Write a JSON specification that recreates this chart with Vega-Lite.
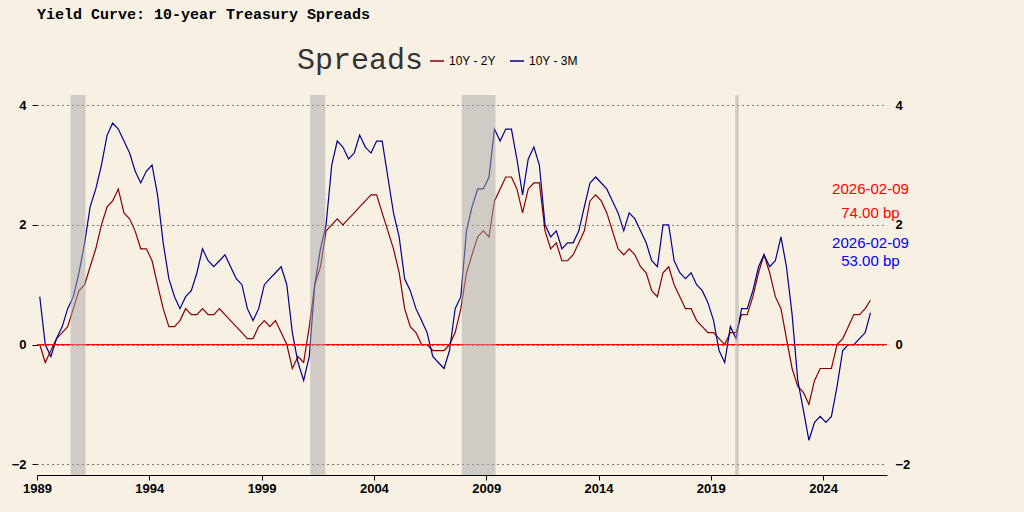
{
  "$schema": "https://vega.github.io/schema/vega-lite/v6.json",
  "autosize": "none",
  "width": 850,
  "height": 380,
  "padding": {"left": 37, "top": 95, "right": 137, "bottom": 37},
  "background": "#f8f0e3",
  "config": {"view": {"stroke": null}, "font": "Liberation Sans"},
  "title": {
    "text": "Yield Curve: 10-year Treasury Spreads",
    "anchor": "start", "frame": "group", "font": "Liberation Mono", "fontSize": 15, "fontWeight": "bold",
    "offset": 31, "color": "#000"
  },
  "datasets": {
    "spreads": [
      {"d":"1989-02-15","a":0.0,"b":0.8},{"d":"1989-05-15","a":-0.3,"b":0.0},{"d":"1989-08-15","a":-0.1,"b":-0.2},{"d":"1989-11-15","a":0.1,"b":0.1},
      {"d":"1990-02-15","a":0.2,"b":0.3},{"d":"1990-05-15","a":0.3,"b":0.6},{"d":"1990-08-15","a":0.6,"b":0.8},{"d":"1990-11-15","a":0.9,"b":1.2},
      {"d":"1991-02-15","a":1.0,"b":1.7},{"d":"1991-05-15","a":1.3,"b":2.3},{"d":"1991-08-15","a":1.6,"b":2.6},{"d":"1991-11-15","a":2.0,"b":3.0},
      {"d":"1992-02-15","a":2.3,"b":3.5},{"d":"1992-05-15","a":2.4,"b":3.7},{"d":"1992-08-15","a":2.6,"b":3.6},{"d":"1992-11-15","a":2.2,"b":3.4},
      {"d":"1993-02-15","a":2.1,"b":3.2},{"d":"1993-05-15","a":1.9,"b":2.9},{"d":"1993-08-15","a":1.6,"b":2.7},{"d":"1993-11-15","a":1.6,"b":2.9},
      {"d":"1994-02-15","a":1.4,"b":3.0},{"d":"1994-05-15","a":1.0,"b":2.5},{"d":"1994-08-15","a":0.6,"b":1.7},{"d":"1994-11-15","a":0.3,"b":1.1},
      {"d":"1995-02-15","a":0.3,"b":0.8},{"d":"1995-05-15","a":0.4,"b":0.6},{"d":"1995-08-15","a":0.6,"b":0.8},{"d":"1995-11-15","a":0.5,"b":0.9},
      {"d":"1996-02-15","a":0.5,"b":1.2},{"d":"1996-05-15","a":0.6,"b":1.6},{"d":"1996-08-15","a":0.5,"b":1.4},{"d":"1996-11-15","a":0.5,"b":1.3},
      {"d":"1997-02-15","a":0.6,"b":1.4},{"d":"1997-05-15","a":0.5,"b":1.5},{"d":"1997-08-15","a":0.4,"b":1.3},{"d":"1997-11-15","a":0.3,"b":1.1},
      {"d":"1998-02-15","a":0.2,"b":1.0},{"d":"1998-05-15","a":0.1,"b":0.6},{"d":"1998-08-15","a":0.1,"b":0.4},{"d":"1998-11-15","a":0.3,"b":0.6},
      {"d":"1999-02-15","a":0.4,"b":1.0},{"d":"1999-05-15","a":0.3,"b":1.1},{"d":"1999-08-15","a":0.4,"b":1.2},{"d":"1999-11-15","a":0.2,"b":1.3},
      {"d":"2000-02-15","a":0.0,"b":1.0},{"d":"2000-05-15","a":-0.4,"b":0.2},{"d":"2000-08-15","a":-0.2,"b":-0.3},{"d":"2000-11-15","a":-0.3,"b":-0.6},
      {"d":"2001-02-15","a":0.3,"b":-0.2},{"d":"2001-05-15","a":1.0,"b":1.0},{"d":"2001-08-15","a":1.3,"b":1.6},{"d":"2001-11-15","a":1.9,"b":2.0},
      {"d":"2002-02-15","a":2.0,"b":3.0},{"d":"2002-05-15","a":2.1,"b":3.4},{"d":"2002-08-15","a":2.0,"b":3.3},{"d":"2002-11-15","a":2.1,"b":3.1},
      {"d":"2003-02-15","a":2.2,"b":3.2},{"d":"2003-05-15","a":2.3,"b":3.5},{"d":"2003-08-15","a":2.4,"b":3.3},{"d":"2003-11-15","a":2.5,"b":3.2},
      {"d":"2004-02-15","a":2.5,"b":3.4},{"d":"2004-05-15","a":2.2,"b":3.4},{"d":"2004-08-15","a":1.9,"b":2.8},{"d":"2004-11-15","a":1.6,"b":2.2},
      {"d":"2005-02-15","a":1.2,"b":1.8},{"d":"2005-05-15","a":0.6,"b":1.1},{"d":"2005-08-15","a":0.3,"b":0.9},{"d":"2005-11-15","a":0.2,"b":0.6},
      {"d":"2006-02-15","a":0.0,"b":0.4},{"d":"2006-05-15","a":0.0,"b":0.2},{"d":"2006-08-15","a":-0.1,"b":-0.2},{"d":"2006-11-15","a":-0.1,"b":-0.3},
      {"d":"2007-02-15","a":-0.1,"b":-0.4},{"d":"2007-05-15","a":0.0,"b":-0.1},{"d":"2007-08-15","a":0.2,"b":0.6},{"d":"2007-11-15","a":0.6,"b":0.8},
      {"d":"2008-02-15","a":1.2,"b":1.9},{"d":"2008-05-15","a":1.5,"b":2.3},{"d":"2008-08-15","a":1.8,"b":2.6},{"d":"2008-11-15","a":1.9,"b":2.6},
      {"d":"2009-02-15","a":1.8,"b":2.8},{"d":"2009-05-15","a":2.4,"b":3.6},{"d":"2009-08-15","a":2.6,"b":3.4},{"d":"2009-11-15","a":2.8,"b":3.6},
      {"d":"2010-02-15","a":2.8,"b":3.6},{"d":"2010-05-15","a":2.6,"b":3.1},{"d":"2010-08-15","a":2.2,"b":2.5},{"d":"2010-11-15","a":2.6,"b":3.1},
      {"d":"2011-02-15","a":2.7,"b":3.3},{"d":"2011-05-15","a":2.7,"b":3.0},{"d":"2011-08-15","a":1.9,"b":2.0},{"d":"2011-11-15","a":1.6,"b":1.8},
      {"d":"2012-02-15","a":1.7,"b":1.9},{"d":"2012-05-15","a":1.4,"b":1.6},{"d":"2012-08-15","a":1.4,"b":1.7},{"d":"2012-11-15","a":1.5,"b":1.7},
      {"d":"2013-02-15","a":1.7,"b":1.9},{"d":"2013-05-15","a":1.9,"b":2.3},{"d":"2013-08-15","a":2.4,"b":2.7},{"d":"2013-11-15","a":2.5,"b":2.8},
      {"d":"2014-02-15","a":2.4,"b":2.7},{"d":"2014-05-15","a":2.2,"b":2.6},{"d":"2014-08-15","a":1.9,"b":2.4},{"d":"2014-11-15","a":1.6,"b":2.2},
      {"d":"2015-02-15","a":1.5,"b":1.9},{"d":"2015-05-15","a":1.6,"b":2.2},{"d":"2015-08-15","a":1.5,"b":2.1},{"d":"2015-11-15","a":1.3,"b":1.9},
      {"d":"2016-02-15","a":1.2,"b":1.7},{"d":"2016-05-15","a":0.9,"b":1.4},{"d":"2016-08-15","a":0.8,"b":1.3},{"d":"2016-11-15","a":1.2,"b":2.0},
      {"d":"2017-02-15","a":1.3,"b":2.0},{"d":"2017-05-15","a":1.0,"b":1.4},{"d":"2017-08-15","a":0.8,"b":1.2},{"d":"2017-11-15","a":0.6,"b":1.1},
      {"d":"2018-02-15","a":0.6,"b":1.2},{"d":"2018-05-15","a":0.4,"b":1.0},{"d":"2018-08-15","a":0.3,"b":0.9},{"d":"2018-11-15","a":0.2,"b":0.7},
      {"d":"2019-02-15","a":0.2,"b":0.4},{"d":"2019-05-15","a":0.1,"b":-0.1},{"d":"2019-08-15","a":0.0,"b":-0.3},{"d":"2019-11-15","a":0.2,"b":0.3},
      {"d":"2020-02-15","a":0.2,"b":0.1},{"d":"2020-05-15","a":0.5,"b":0.6},{"d":"2020-08-15","a":0.5,"b":0.6},{"d":"2020-11-15","a":0.8,"b":0.9},
      {"d":"2021-02-15","a":1.2,"b":1.3},{"d":"2021-05-15","a":1.5,"b":1.5},{"d":"2021-08-15","a":1.2,"b":1.3},{"d":"2021-11-15","a":0.8,"b":1.4},
      {"d":"2022-02-15","a":0.6,"b":1.8},{"d":"2022-05-15","a":0.1,"b":1.3},{"d":"2022-08-15","a":-0.4,"b":0.5},{"d":"2022-11-15","a":-0.7,"b":-0.6},
      {"d":"2023-02-15","a":-0.8,"b":-1.1},{"d":"2023-05-15","a":-1.0,"b":-1.6},{"d":"2023-08-15","a":-0.6,"b":-1.3},{"d":"2023-11-15","a":-0.4,"b":-1.2},
      {"d":"2024-02-15","a":-0.4,"b":-1.3},{"d":"2024-05-15","a":-0.4,"b":-1.2},{"d":"2024-08-15","a":0.0,"b":-0.7},{"d":"2024-11-15","a":0.1,"b":-0.1},
      {"d":"2025-02-15","a":0.3,"b":0.0},{"d":"2025-05-15","a":0.5,"b":0.0},{"d":"2025-08-15","a":0.5,"b":0.1},{"d":"2025-11-15","a":0.6,"b":0.2},
      {"d":"2026-02-09","a":0.74,"b":0.53}
    ],
    "recessions": [
      {"start":"1990-07-01","end":"1991-03-01"},
      {"start":"2001-03-01","end":"2001-11-01"},
      {"start":"2007-12-01","end":"2009-06-01"},
      {"start":"2020-02-01","end":"2020-04-01"}
    ],
    "notes": [
      {"d":"2026-02-09","y":2.6,"t":"2026-02-09","s":"10Y - 2Y"},
      {"d":"2026-02-09","y":2.2,"t":"74.00 bp","s":"10Y - 2Y"},
      {"d":"2026-02-09","y":1.7,"t":"2026-02-09","s":"10Y - 3M"},
      {"d":"2026-02-09","y":1.4,"t":"53.00 bp","s":"10Y - 3M"}
    ]
  },
  "layer": [
    {
      "data": {"name": "spreads"},
      "transform": [
        {"fold": ["a", "b"], "as": ["k", "v"]},
        {"calculate": "datum.k == 'a' ? '10Y - 2Y' : '10Y - 3M'", "as": "series"}
      ],
      "mark": {"type": "line", "strokeWidth": 1.2},
      "encoding": {
        "x": {"field": "d", "type": "temporal", "title": null,
          "scale": {"domain": [{"year": 1989, "month": 1, "date": 1}, {"year": 2026, "month": 11, "date": 5}]},
          "axis": {"values": [{"year":1989},{"year":1994},{"year":1999},{"year":2004},{"year":2009},{"year":2014},{"year":2019},{"year":2024}],
            "format": "%Y", "labelFontWeight": "bold", "labelFontSize": 13, "labelColor": "#000", "domainColor": "#000", "tickColor": "#000", "grid": false, "labelFlush": false}},
        "y": {"field": "v", "type": "quantitative", "title": null,
          "scale": {"domain": [-2.18, 4.17], "nice": false, "zero": false},
          "axis": {"values": [-2, 0, 2, 4], "labelFontWeight": "bold", "labelFontSize": 13, "labelColor": "#000", "domain": false, "tickColor": "#000",
            "gridColor": "#000", "gridDash": [1, 4], "gridWidth": 1.2, "gridOpacity": 1, "labelPadding": 6}},
        "color": {"field": "series", "type": "nominal",
          "scale": {"domain": ["10Y - 2Y", "10Y - 3M"], "range": ["#8b0000", "#00008b"]},
          "legend": {"title": "Spreads", "orient": "none", "legendX": 260, "legendY": -42, "direction": "horizontal",
            "titleOrient": "left", "titleFont": "Liberation Mono", "titleFontSize": 30, "titleFontWeight": "normal", "titleColor": "#333",
            "symbolType": "stroke", "symbolSize": 200, "symbolStrokeWidth": 1.5, "labelFontSize": 12, "labelColor": "#000", "columnPadding": 10}}
      }
    },
    {
      "data": {"values": [{"y": 0}]},
      "mark": {"type": "rule", "color": "red", "strokeWidth": 1.2},
      "encoding": {"y": {"field": "y", "type": "quantitative", "title": null, "axis": {"orient": "right", "title": null, "values": [-2, 0, 2, 4], "labelFontWeight": "bold", "labelFontSize": 13, "labelColor": "#000", "domain": false, "ticks": false, "grid": false, "labelPadding": 8}}}
    },
    {
      "data": {"name": "recessions"},
      "mark": {"type": "rect", "color": "#a8a8a8", "opacity": 0.5},
      "encoding": {"x": {"field": "start", "type": "temporal"}, "x2": {"field": "end"}}
    },
    {
      "data": {"name": "notes"},
      "mark": {"type": "text", "fontSize": 15, "align": "center"},
      "encoding": {
        "x": {"field": "d", "type": "temporal"},
        "y": {"field": "y", "type": "quantitative", "axis": null},
        "text": {"field": "t"},
        "color": {"field": "s", "type": "nominal", "scale": {"domain": ["10Y - 2Y", "10Y - 3M"], "range": ["red", "blue"]}, "legend": null}
      }
    }
  ],
  "resolve": {"scale": {"color": "independent"}, "axis": {"y": "independent"}}
}
